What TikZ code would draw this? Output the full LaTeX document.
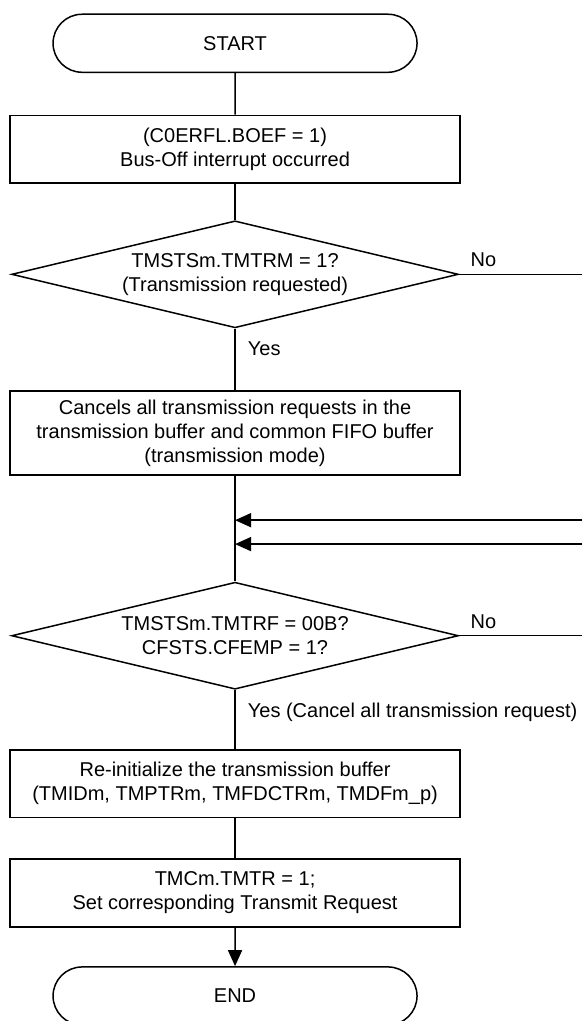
\documentclass[tikz,border=0pt]{standalone}
\usepackage{fontspec}
\setmainfont{Liberation Sans}
\usetikzlibrary{shapes.geometric,shapes.misc,arrows.meta}

\begin{document}
\begin{tikzpicture}[
    terminal/.style={rounded rectangle, draw, line width=0.75pt, minimum width=6.63cm, minimum height=1.02cm, align=center},
    process/.style={rectangle, draw, line width=0.75pt, minimum width=7.91cm, minimum height=1.19cm, align=center},
    decision/.style={diamond, draw, line width=0.75pt, aspect=4.18, inner sep=0pt, minimum width=7.85cm, minimum height=1.88cm, align=center},
    flow/.style={line width=0.75pt},
    arrow/.style={flow, -{Triangle[length=8pt, width=7pt]}}
]
    \path[use as bounding box, clip] (-4.13,0) rectangle (6.10,-17.94);

    % Steps
    \node[terminal] (start) at (0,-0.76) {START};
    \node[process] (boef) at (0,-2.62) {(C0ERFL.BOEF = 1)\\Bus-Off interrupt occurred};
    \node[decision] (tmtrm) at (0,-4.82) {TMSTSm.TMTRM = 1?\\(Transmission requested)};
    \node[process, minimum height=1.48cm] (cancel) at (0,-7.61) {Cancels all transmission requests in the\\transmission buffer and common FIFO buffer\\(transmission mode)};
    \node[decision] (tmtrf) at (0,-11.17) {TMSTSm.TMTRF = 00B?\\CFSTS.CFEMP = 1?};
    \node[process, minimum height=1.18cm] (reinit) at (0,-13.77) {Re-initialize the transmission buffer\\(TMIDm, TMPTRm, TMFDCTRm, TMDFm\_p)};
    \node[process] (settr) at (0,-15.69) {TMCm.TMTR = 1;\\Set corresponding Transmit Request};
    \node[terminal] (stop) at (0,-17.50) {END};

    % Loose ends at the right edge
    \coordinate (edge) at (6.10,0);
    \coordinate (in1) at (6.10,-9.14);
    \coordinate (in2) at (6.10,-9.56);

    % Connectors
    \draw[flow] (start) -- (boef);
    \draw[flow] (boef) -- (tmtrm);
    \draw[flow] (tmtrm) -- (cancel) node[pos=0, anchor=north west, xshift=2.7pt, yshift=-2.7pt] {Yes};
    \draw[flow] (tmtrm.east) -- (tmtrm.east -| edge) node[pos=0, anchor=south west, xshift=2pt] {No};
    \draw[flow] (cancel) -- (tmtrf);
    \draw[arrow] (in1) -- (in1 -| cancel.south);
    \draw[arrow] (in2) -- (in2 -| cancel.south);
    \draw[flow] (tmtrf.east) -- (tmtrf.east -| edge) node[pos=0, anchor=south west, xshift=2pt] {No};
    \draw[flow] (tmtrf) -- (reinit) node[pos=0, anchor=north west, xshift=2.7pt, yshift=-2.7pt] {Yes (Cancel all transmission request)};
    \draw[flow] (reinit) -- (settr);
    \draw[arrow] (settr) -- (stop);
\end{tikzpicture}
\end{document}
